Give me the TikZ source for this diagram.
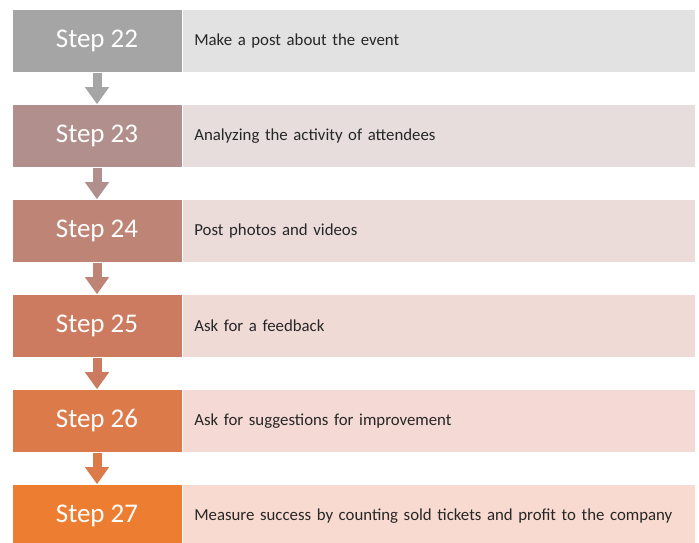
\documentclass[tikz,border=0pt]{standalone}
\usepackage{fontspec}
\setmainfont{Carlito}
\usetikzlibrary{arrows.meta}
\definecolor{sa}{HTML}{A5A5A5}\definecolor{pa}{HTML}{E2E2E2}
\definecolor{sb}{HTML}{B08F8C}\definecolor{pb}{HTML}{E7DDDD}
\definecolor{sc}{HTML}{BE8476}\definecolor{pc}{HTML}{EBDCDA}
\definecolor{sd}{HTML}{CD7B60}\definecolor{pd}{HTML}{F0DAD6}
\definecolor{se}{HTML}{DD7A4A}\definecolor{pe}{HTML}{F5D9D4}
\definecolor{sf}{HTML}{ED7D31}\definecolor{pf}{HTML}{F9DAD0}
\tikzset{
  stepbox/.style={minimum width=170pt, minimum height=63pt, inner sep=0pt, text=white, font=\fontsize{27}{30}\selectfont, draw=white, line width=0.6pt},
  panel/.style={minimum width=513pt, minimum height=63pt, inner sep=0pt, anchor=west, text width=489pt, align=left, font=\fontsize{16.8}{19}\selectfont, text=black!85, draw=white, line width=0.6pt},
  flow/.style={line width=9pt, -{Triangle[width=23pt,length=17pt]}, shorten >=0pt}
}
\begin{document}
\begin{tikzpicture}[x=1pt,y=-1pt]
\useasboundingbox (0,0) rectangle (699,543);
\clip (0,0) rectangle (699,543);
\fill[white] (0,0) rectangle (699,543);
\foreach \n/\s/\p/\t/\y in {22/sa/pa/{Make a post about the event}/41,
  23/sb/pb/{Analyzing the activity of attendees}/136,
  24/sc/pc/{Post photos and videos}/231,
  25/sd/pd/{Ask for a feedback}/326,
  26/se/pe/{Ask for suggestions for improvement}/421,
  27/sf/pf/{Measure success by counting sold tickets and profit to the company}/516}{
  \node[stepbox, fill=\s] (s\n) at (97,\y) {Step \n};
  \node[panel, fill=\p] (p\n) at (182,\y) {\t};
}
\draw[flow, sa] (s22.south) -- (s23.north);
\draw[flow, sb] (s23.south) -- (s24.north);
\draw[flow, sc] (s24.south) -- (s25.north);
\draw[flow, sd] (s25.south) -- (s26.north);
\draw[flow, se] (s26.south) -- (s27.north);
\end{tikzpicture}
\end{document}
